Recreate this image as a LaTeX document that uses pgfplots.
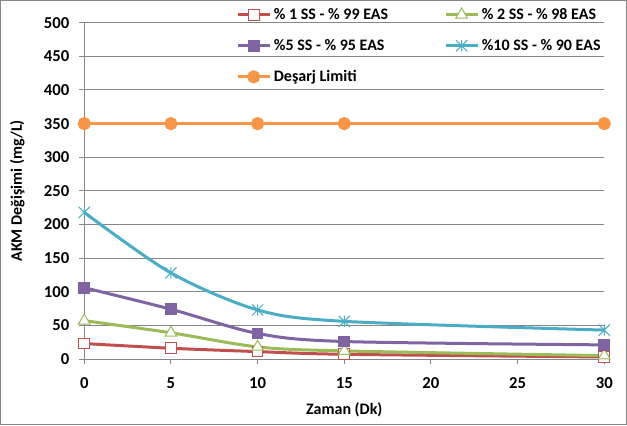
\documentclass[border=0pt]{standalone}
\usepackage{fontspec}
\setmainfont{Carlito}
\usepackage{pgfplots}
\pgfplotsset{compat=1.18}
\definecolor{cred}{HTML}{C0504D}
\definecolor{cgreen}{HTML}{9BBB59}
\definecolor{cpurple}{HTML}{8064A2}
\definecolor{cblue}{HTML}{4BACC6}
\definecolor{corange}{HTML}{F79646}
\definecolor{gline}{HTML}{868686}
\pgfdeclareplotmark{xast}{%
 \pgfpathmoveto{\pgfqpoint{0pt}{\pgfplotmarksize}}\pgfpathlineto{\pgfqpoint{0pt}{-\pgfplotmarksize}}%
 \pgfpathmoveto{\pgfqpoint{-\pgfplotmarksize}{-\pgfplotmarksize}}\pgfpathlineto{\pgfqpoint{\pgfplotmarksize}{\pgfplotmarksize}}%
 \pgfpathmoveto{\pgfqpoint{-\pgfplotmarksize}{\pgfplotmarksize}}\pgfpathlineto{\pgfqpoint{\pgfplotmarksize}{-\pgfplotmarksize}}%
 \pgfusepathqstroke}
\begin{document}
\begin{tikzpicture}
\useasboundingbox (0pt,0pt) rectangle (470.25pt,318.75pt);
\draw[color=gline,line width=0.75pt] (0.375pt,0.375pt) rectangle (469.875pt,318.375pt);
\begin{axis}[
  at={(63.2pt,49.5pt)}, anchor=south west,
  width=390pt, height=252.2pt, scale only axis,
  xmin=0, xmax=30, ymin=0, ymax=500,
  xtick={0,5,...,30}, ytick={0,50,...,500},
  axis x line*=bottom, axis y line*=left,
  ymajorgrids, grid style={color=gline, line width=0.75pt},
  axis line style={color=gline, line width=0.75pt, -},
  tick style={color=gline, line width=0.75pt},
  tick align=outside, major tick length=3.75pt,
  clip=false,
  /pgf/number format/assume math mode=true,
  ticklabel style={font=\fontsize{12.5}{14}\selectfont\bfseries},
  xticklabel style={yshift=-7pt},
  yticklabel style={xshift=-4pt},
  xlabel={Zaman (Dk)}, ylabel={AKM Değişimi (mg/L)},
  label style={font=\fontsize{12}{14}\selectfont\bfseries},
  xlabel style={at={(axis description cs:0.5,-0.152)}, anchor=center},
  ylabel style={at={(axis description cs:-0.129,0.5)}, anchor=center},
  legend columns=2,
  legend style={at={(axis description cs:0.284,1.06)}, anchor=north west,
    draw=none, fill=none, font=\fontsize{12}{14}\selectfont\bfseries,
    /tikz/every even column/.append style={column sep=40pt},
    row sep=9.5pt},
  legend cell align=left,
  legend image code/.code={\draw[mark repeat=2,mark phase=2] plot coordinates {(0pt,0pt) (12pt,0pt) (24pt,0pt)};},
  every axis plot/.append style={line width=2.25pt},
]
\addplot[cred, smooth, mark=square*, mark size=4pt, mark options={fill=white, draw=cred, line width=0.75pt}]
  coordinates {(0,23) (5,16) (10,11) (15,7) (30,3)};
\addlegendentry{\% 1 SS - \% 99 EAS}
\addplot[cgreen, smooth, mark=triangle*, mark size=5pt, mark options={fill=white, draw=cgreen, line width=0.75pt}]
  coordinates {(0,57) (5,39) (10,18) (15,12) (30,5)};
\addlegendentry{\% 2 SS - \% 98 EAS}
\addplot[cpurple, smooth, mark=square*, mark size=4pt, mark options={fill=cpurple, draw=cpurple, line width=0.75pt}]
  coordinates {(0,106) (5,74) (10,38) (15,26) (30,21)};
\addlegendentry{\%5 SS - \% 95 EAS}
\addplot[cblue, smooth, mark=xast, mark size=4.2pt, mark options={draw=cblue, line width=0.75pt}]
  coordinates {(0,218) (5,128) (10,73) (15,56) (30,43)};
\addlegendentry{\%10 SS - \% 90 EAS}
\addplot[corange, mark=*, mark size=3.8pt, mark options={fill=corange, draw=corange}]
  coordinates {(0,350) (5,350) (10,350) (15,350) (30,350)};
\addlegendentry{Deşarj Limiti}
\end{axis}
\end{tikzpicture}
\end{document}
